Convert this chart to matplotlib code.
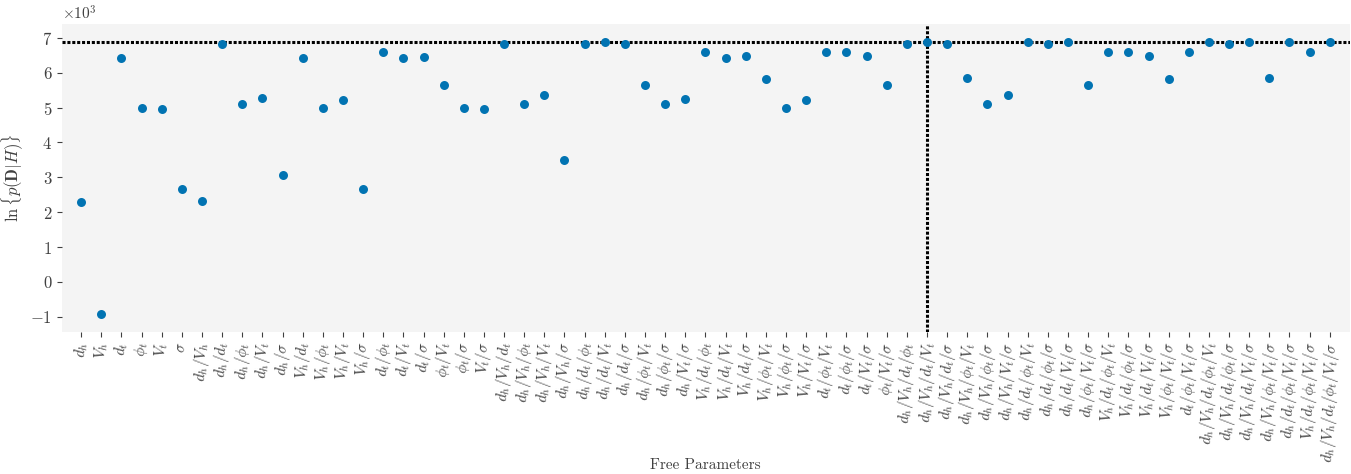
import matplotlib
matplotlib.use("Agg")
import matplotlib.pyplot as plt
import numpy as np

plt.rcParams['font.family'] = 'serif'
plt.rcParams['font.serif'] = ['cmr10', 'DejaVu Serif']
plt.rcParams['mathtext.fontset'] = 'cm'
plt.rcParams['axes.formatter.use_mathtext'] = True

labels = [
    r'$d_h$', r'$V_h$', r'$d_t$', r'$\phi_t$', r'$V_t$', r'$\sigma$',
    r'$d_h/V_h$', r'$d_h/d_t$', r'$d_h/\phi_t$', r'$d_h/V_t$', r'$d_h/\sigma$',
    r'$V_h/d_t$', r'$V_h/\phi_t$', r'$V_h/V_t$', r'$V_h/\sigma$',
    r'$d_t/\phi_t$', r'$d_t/V_t$', r'$d_t/\sigma$',
    r'$\phi_t/V_t$', r'$\phi_t/\sigma$', r'$V_t/\sigma$',
    r'$d_h/V_h/d_t$', r'$d_h/V_h/\phi_t$', r'$d_h/V_h/V_t$', r'$d_h/V_h/\sigma$',
    r'$d_h/d_t/\phi_t$', r'$d_h/d_t/V_t$', r'$d_h/d_t/\sigma$',
    r'$d_h/\phi_t/V_t$', r'$d_h/\phi_t/\sigma$', r'$d_h/V_t/\sigma$',
    r'$V_h/d_t/\phi_t$', r'$V_h/d_t/V_t$', r'$V_h/d_t/\sigma$',
    r'$V_h/\phi_t/V_t$', r'$V_h/\phi_t/\sigma$', r'$V_h/V_t/\sigma$',
    r'$d_t/\phi_t/V_t$', r'$d_t/\phi_t/\sigma$', r'$d_t/V_t/\sigma$',
    r'$\phi_t/V_t/\sigma$',
    r'$d_h/V_h/d_t/\phi_t$', r'$d_h/V_h/d_t/V_t$', r'$d_h/V_h/d_t/\sigma$',
    r'$d_h/V_h/\phi_t/V_t$', r'$d_h/V_h/\phi_t/\sigma$', r'$d_h/V_h/V_t/\sigma$',
    r'$d_h/d_t/\phi_t/V_t$', r'$d_h/d_t/\phi_t/\sigma$', r'$d_h/d_t/V_t/\sigma$',
    r'$d_h/\phi_t/V_t/\sigma$',
    r'$V_h/d_t/\phi_t/V_t$', r'$V_h/d_t/\phi_t/\sigma$', r'$V_h/d_t/V_t/\sigma$',
    r'$V_h/\phi_t/V_t/\sigma$', r'$d_t/\phi_t/V_t/\sigma$',
    r'$d_h/V_h/d_t/\phi_t/V_t$', r'$d_h/V_h/d_t/\phi_t/\sigma$',
    r'$d_h/V_h/d_t/V_t/\sigma$', r'$d_h/V_h/\phi_t/V_t/\sigma$',
    r'$d_h/d_t/\phi_t/V_t/\sigma$', r'$V_h/d_t/\phi_t/V_t/\sigma$',
    r'$d_h/V_h/d_t/\phi_t/V_t/\sigma$',
]

log_evidence = [
    2300, -930, 6420, 5000, 4960, 2660,
    2310, 6830, 5100, 5260, 3060,
    6430, 5000, 5210, 2670,
    6580, 6420, 6440,
    5650, 4990, 4960,
    6830, 5100, 5360, 3510,
    6830, 6880, 6820,
    5660, 5090, 5250,
    6600, 6430, 6470,
    5820, 4990, 5210,
    6600, 6580, 6470,
    5650,
    6820, 6880, 6820,
    5840, 5090, 5350,
    6870, 6820, 6870,
    5650,
    6600, 6600, 6480,
    5810, 6590,
    6880, 6820,
    6880, 5840,
    6870, 6590,
    6880,
]

best_value = 6877
best_index = 42

text_color = '#404040'

fig = plt.figure(figsize=(13.51, 4.74), dpi=100)
ax = fig.add_axes([0.0459, 0.300, 0.953, 0.649])
ax.set_facecolor('#f4f4f4')
for s in ax.spines.values():
    s.set_visible(False)

x = np.arange(len(labels))
ax.axhline(best_value, color='black', lw=2.2, linestyle=(0, (1, 0.6)), zorder=1)
ax.axvline(x[best_index], color='black', lw=2.2, linestyle=(0, (1, 0.6)), zorder=1)
ax.scatter(x, log_evidence, s=42, color='#0173B2', zorder=3, linewidths=0)

ax.set_xlim(-0.95, 62.98)
ax.set_ylim(-1430, 7390)
ax.set_xticks(x)
ax.set_xticklabels(labels, rotation=88, ha='center', fontsize=11, color=text_color)
ax.set_yticks(np.arange(-1000, 7001, 1000))
ax.ticklabel_format(axis='y', style='sci', scilimits=(0, 0), useMathText=True)
ax.yaxis.get_offset_text().set_fontsize(11)
ax.yaxis.get_offset_text().set_color(text_color)
ax.tick_params(axis='both', colors=text_color, labelsize=11, length=3.5, width=0.8)
ax.tick_params(axis='y', labelsize=12)

ax.set_ylabel(r'$\ln\{p(\mathbf{D}|H)\}$', fontsize=12, color=text_color)
ax.yaxis.set_label_coords(-0.0285, 0.5)
fig.text(0.0459 + 0.953 / 2, 0.005, 'Free Parameters', ha='center', va='bottom',
         fontsize=11, color=text_color)

fig.savefig('out.png', dpi=100)
